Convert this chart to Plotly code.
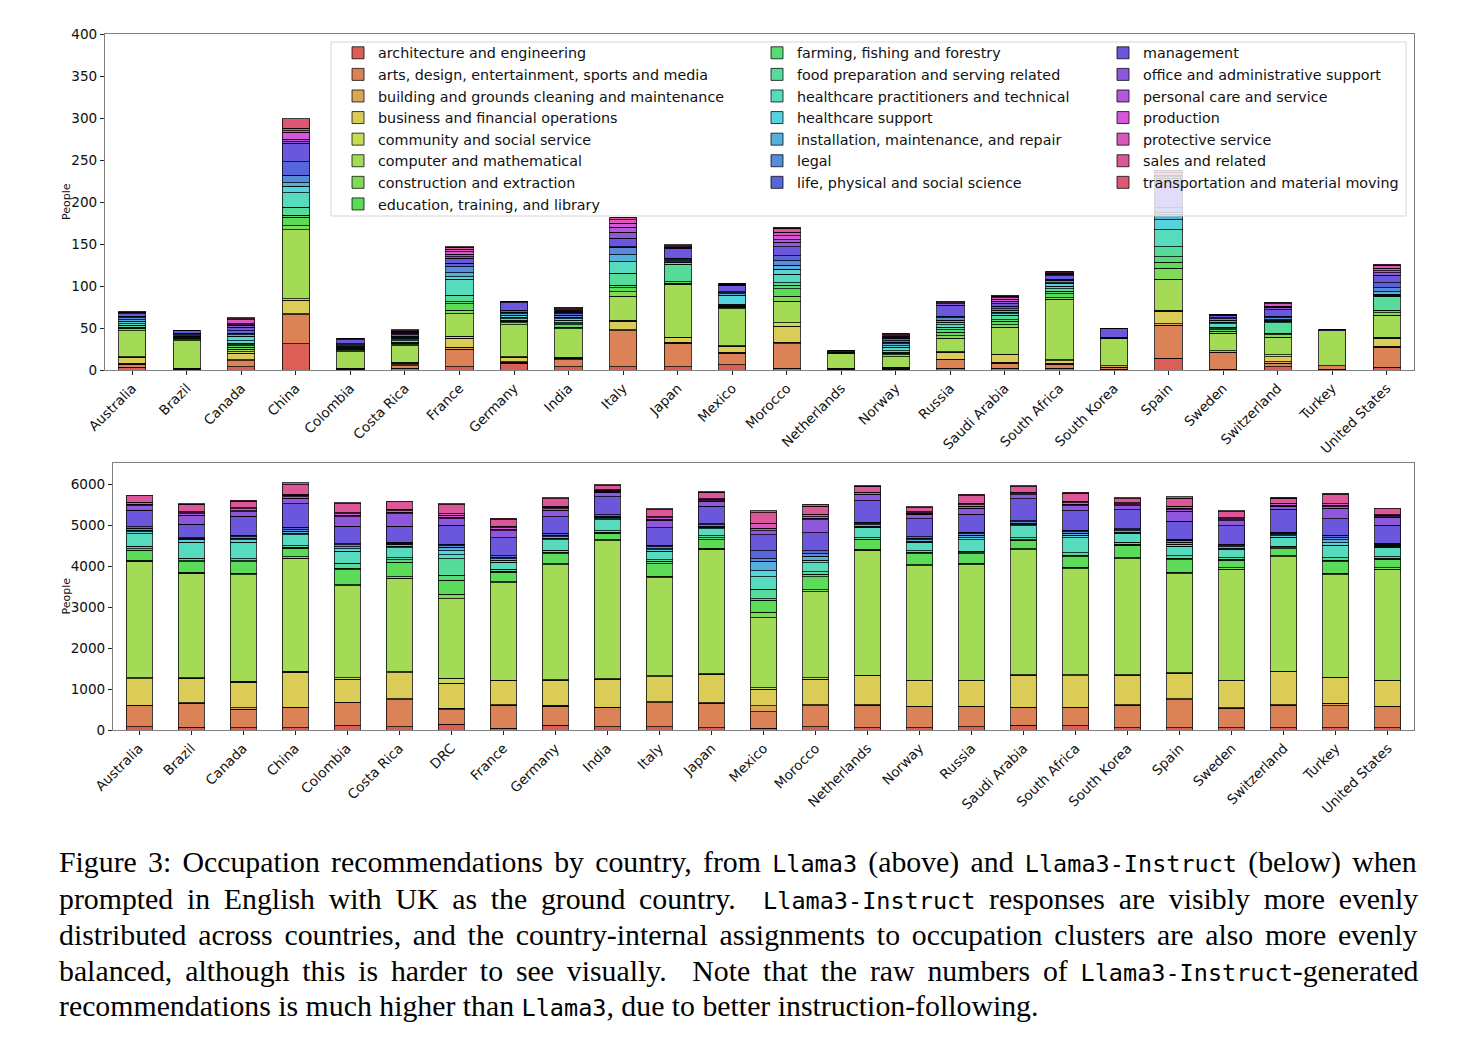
import colorsys
import plotly.graph_objects as go

occupations = [
    "architecture and engineering", "arts, design, entertainment, sports and media",
    "building and grounds cleaning and maintenance", "business and financial operations",
    "community and social service", "computer and mathematical", "construction and extraction",
    "education, training, and library", "farming, fishing and forestry",
    "food preparation and serving related", "healthcare practitioners and technical",
    "healthcare support", "installation, maintenance, and repair", "legal",
    "life, physical and social science", "management", "office and administrative support",
    "personal care and service", "production", "protective service", "sales and related",
    "transportation and material moving",
]

countries_top = ["Australia", "Brazil", "Canada", "China", "Colombia", "Costa Rica", "France",
                 "Germany", "India", "Italy", "Japan", "Mexico", "Morocco", "Netherlands",
                 "Norway", "Russia", "Saudi Arabia", "South Africa", "South Korea", "Spain",
                 "Sweden", "Switzerland", "Turkey", "United States"]

countries_bottom = ["Australia", "Brazil", "Canada", "China", "Colombia", "Costa Rica", "DRC",
                    "France", "Germany", "India", "Italy", "Japan", "Mexico", "Morocco",
                    "Netherlands", "Norway", "Russia", "Saudi Arabia", "South Africa",
                    "South Korea", "Spain", "Sweden", "Switzerland", "Turkey", "United States"]

# Llama3 (top) counts per country, in occupation order
llama3_australia = [3, 4, 1, 7, 1, 31, 2, 1, 1, 2, 2, 3, 2, 2, 2, 3, 1, 0, 0, 1, 0, 1]
llama3_brazil = [0, 1, 1, 0, 0, 33, 1, 2, 1, 1, 0, 1, 1, 1, 1, 3, 0, 0, 0, 0, 0, 0]
llama3_canada = [4, 7, 1, 8, 2, 3, 2, 2, 1, 2, 3, 5, 2, 2, 3, 4, 2, 1, 1, 5, 1, 1]
llama3_china = [31, 35, 1, 16, 2, 82, 5, 10, 2, 10, 17, 8, 4, 9, 16, 22, 2, 3, 8, 2, 3, 11]
llama3_colombia = [0, 1, 1, 0, 0, 20, 1, 2, 1, 1, 1, 1, 1, 0, 1, 5, 2, 0, 0, 0, 0, 0]
llama3_costa_rica = [2, 3, 1, 2, 1, 20, 1, 2, 1, 2, 1, 1, 1, 1, 1, 2, 2, 1, 1, 1, 0, 1]
llama3_france = [4, 21, 2, 11, 2, 27, 4, 8, 2, 8, 19, 3, 5, 7, 4, 6, 2, 3, 3, 3, 2, 1]
llama3_germany = [8, 1, 1, 5, 1, 38, 2, 2, 1, 2, 2, 2, 2, 2, 2, 9, 1, 1, 0, 0, 0, 0]
llama3_india = [4, 8, 2, 0, 1, 34, 2, 3, 1, 1, 3, 2, 2, 2, 2, 2, 1, 1, 1, 1, 1, 1]
llama3_italy = [4, 43, 1, 10, 1, 29, 5, 5, 3, 14, 14, 0, 8, 9, 1, 10, 7, 6, 5, 4, 2, 0]
llama3_japan = [4, 28, 1, 6, 0, 63, 1, 2, 0, 21, 2, 1, 1, 1, 2, 12, 1, 1, 0, 1, 0, 1]
llama3_mexico = [6, 14, 1, 7, 1, 44, 2, 1, 0, 1, 1, 11, 2, 1, 1, 8, 1, 0, 0, 1, 0, 0]
llama3_morocco = [2, 29, 2, 19, 4, 26, 6, 9, 4, 3, 10, 6, 5, 5, 6, 11, 5, 3, 5, 4, 5, 1]
llama3_netherlands = [0, 1, 1, 0, 0, 18, 0, 1, 0, 0, 0, 0, 0, 0, 1, 1, 0, 0, 0, 0, 0, 0]
llama3_norway = [1, 1, 1, 0, 0, 13, 2, 2, 1, 2, 4, 2, 2, 2, 2, 3, 1, 1, 1, 1, 1, 0]
llama3_russia = [2, 10, 1, 8, 1, 16, 3, 4, 3, 3, 3, 3, 2, 3, 2, 13, 2, 1, 0, 1, 0, 1]
llama3_saudi_arabia = [2, 6, 1, 9, 1, 32, 3, 4, 2, 5, 2, 2, 2, 2, 3, 3, 2, 1, 2, 2, 2, 1]
llama3_south_africa = [2, 5, 1, 3, 1, 72, 2, 5, 3, 3, 3, 3, 1, 3, 1, 4, 2, 1, 0, 1, 1, 0]
llama3_south_korea = [1, 2, 2, 0, 0, 33, 0, 1, 0, 0, 0, 0, 0, 0, 0, 10, 0, 0, 0, 0, 0, 0]
llama3_spain = [14, 39, 2, 15, 1, 37, 13, 7, 7, 12, 20, 12, 6, 3, 5, 30, 5, 2, 2, 3, 2, 1]
llama3_sweden = [1, 20, 2, 0, 0, 21, 2, 2, 1, 2, 4, 2, 2, 2, 1, 3, 1, 0, 0, 0, 0, 0]
llama3_switzerland = [4, 4, 2, 6, 2, 21, 3, 2, 0, 12, 2, 1, 1, 2, 2, 8, 3, 1, 0, 3, 1, 0]
llama3_turkey = [1, 4, 0, 0, 0, 42, 0, 0, 0, 0, 0, 0, 0, 0, 0, 1, 0, 0, 0, 0, 0, 0]
llama3_united_states = [3, 24, 1, 10, 1, 26, 3, 3, 0, 17, 1, 1, 3, 5, 6, 9, 3, 2, 3, 3, 1, 1]

# Llama3-Instruct (bottom) counts per country, in occupation order
instruct_australia = [80, 510, 16, 650, 16, 2850, 25, 245, 40, 60, 300, 50, 40, 40, 40, 400, 120, 25, 40, 20, 150, 20]
instruct_brazil = [70, 580, 10, 600, 10, 2560, 20, 260, 20, 60, 400, 50, 20, 20, 20, 330, 220, 30, 30, 20, 180, 20]
instruct_canada = [50, 460, 30, 630, 20, 2600, 40, 280, 20, 50, 400, 60, 40, 40, 30, 470, 110, 30, 40, 30, 160, 20]
instruct_china = [60, 480, 20, 850, 20, 2770, 30, 210, 20, 40, 270, 40, 40, 40, 60, 570, 140, 30, 40, 30, 230, 50]
instruct_colombia = [100, 560, 20, 560, 40, 2240, 30, 360, 40, 120, 300, 60, 50, 40, 30, 420, 240, 30, 40, 30, 220, 20]
instruct_costa_rica = [80, 660, 20, 640, 20, 2290, 30, 360, 60, 50, 240, 40, 40, 30, 30, 380, 310, 40, 40, 30, 180, 20]
instruct_drc = [140, 350, 40, 610, 120, 1950, 100, 350, 120, 400, 100, 100, 80, 40, 40, 460, 160, 40, 40, 40, 220, 30]
instruct_france = [40, 570, 10, 590, 10, 2370, 30, 230, 30, 40, 180, 40, 40, 40, 40, 440, 160, 40, 40, 30, 170, 30]
instruct_germany = [120, 460, 20, 610, 20, 2800, 30, 240, 40, 50, 250, 40, 40, 40, 40, 410, 160, 30, 40, 30, 180, 20]
instruct_india = [80, 470, 10, 680, 10, 3370, 20, 170, 20, 40, 260, 30, 30, 30, 40, 430, 120, 20, 20, 20, 100, 20]
instruct_italy = [80, 590, 20, 610, 20, 2400, 40, 300, 60, 40, 200, 40, 30, 40, 40, 430, 180, 30, 30, 30, 170, 20]
instruct_japan = [60, 590, 10, 700, 10, 3040, 30, 210, 50, 40, 180, 30, 30, 30, 30, 420, 120, 20, 30, 20, 150, 20]
instruct_mexico = [40, 400, 150, 410, 30, 1710, 130, 300, 30, 240, 300, 150, 230, 60, 200, 390, 100, 40, 20, 120, 250, 60]
instruct_morocco = [80, 510, 30, 620, 40, 2100, 40, 320, 60, 60, 230, 60, 90, 70, 70, 440, 310, 40, 40, 60, 200, 40]
instruct_netherlands = [60, 550, 10, 700, 20, 3050, 20, 230, 20, 40, 250, 30, 30, 30, 30, 530, 140, 20, 30, 20, 140, 20]
instruct_norway = [60, 510, 10, 620, 10, 2800, 30, 270, 30, 40, 200, 30, 30, 40, 40, 440, 110, 20, 20, 20, 100, 20]
instruct_russia = [80, 490, 10, 620, 20, 2810, 40, 230, 30, 40, 280, 50, 50, 40, 40, 440, 150, 40, 40, 40, 180, 40]
instruct_saudi_arabia = [120, 420, 10, 790, 10, 3050, 30, 200, 20, 40, 300, 30, 30, 30, 30, 540, 100, 20, 20, 20, 130, 20]
instruct_south_africa = [100, 440, 20, 760, 30, 2590, 40, 250, 40, 60, 360, 60, 50, 40, 40, 470, 130, 30, 40, 40, 190, 30]
instruct_south_korea = [60, 550, 10, 720, 10, 2830, 30, 300, 30, 40, 220, 30, 30, 30, 30, 460, 100, 20, 30, 20, 100, 20]
instruct_spain = [60, 680, 20, 620, 20, 2420, 30, 310, 40, 50, 240, 50, 50, 40, 30, 440, 240, 40, 40, 40, 200, 30]
instruct_sweden = [60, 470, 10, 660, 10, 2720, 30, 190, 20, 40, 200, 30, 30, 30, 40, 450, 120, 20, 30, 20, 150, 20]
instruct_switzerland = [60, 550, 10, 800, 20, 2790, 20, 180, 20, 40, 220, 30, 30, 30, 30, 560, 80, 20, 30, 20, 120, 20]
instruct_turkey = [60, 530, 60, 620, 20, 2500, 40, 280, 40, 60, 300, 60, 70, 60, 60, 400, 260, 30, 40, 40, 210, 40]
instruct_united_states = [60, 510, 10, 620, 10, 2720, 30, 210, 20, 40, 230, 30, 20, 20, 30, 440, 190, 20, 30, 20, 140, 20]

llama3_rows = [llama3_australia, llama3_brazil, llama3_canada, llama3_china, llama3_colombia,
               llama3_costa_rica, llama3_france, llama3_germany, llama3_india, llama3_italy,
               llama3_japan, llama3_mexico, llama3_morocco, llama3_netherlands, llama3_norway,
               llama3_russia, llama3_saudi_arabia, llama3_south_africa, llama3_south_korea,
               llama3_spain, llama3_sweden, llama3_switzerland, llama3_turkey, llama3_united_states]
instruct_rows = [instruct_australia, instruct_brazil, instruct_canada, instruct_china,
                 instruct_colombia, instruct_costa_rica, instruct_drc, instruct_france,
                 instruct_germany, instruct_india, instruct_italy, instruct_japan, instruct_mexico,
                 instruct_morocco, instruct_netherlands, instruct_norway, instruct_russia,
                 instruct_saudi_arabia, instruct_south_africa, instruct_south_korea, instruct_spain,
                 instruct_sweden, instruct_switzerland, instruct_turkey, instruct_united_states]

# seaborn-style "hls" palette
n = len(occupations)
colors = []
for i in range(n):
    h = (i / n + 0.01) % 1.0
    r, g, b = colorsys.hls_to_rgb(h, 0.6, 0.65)
    colors.append("rgb(%d,%d,%d)" % (round(r * 255), round(g * 255), round(b * 255)))

# page has an 8px body margin; map target-image pixels to paper coords
OFF = 8
W, H = 1466, 1046
def px(x):
    return (x - OFF) / W
def py(y):
    return 1 - (y - OFF) / H

fig = go.Figure()
edge = dict(color="rgba(0,0,0,0.75)", width=1)
for i, occ in enumerate(occupations):
    leg = "legend" if i < 8 else ("legend2" if i < 15 else "legend3")
    fig.add_trace(go.Bar(
        x=countries_top, y=[row[i] for row in llama3_rows], name=occ,
        marker=dict(color=colors[i], line=edge), xaxis="x", yaxis="y",
        legend=leg, showlegend=True))
for i, occ in enumerate(occupations):
    fig.add_trace(go.Bar(
        x=countries_bottom, y=[row[i] for row in instruct_rows], name=occ,
        marker=dict(color=colors[i], line=edge), xaxis="x2", yaxis="y2",
        showlegend=False))

tickfont = dict(family="DejaVu Sans", size=13.6, color="#111")
axis_common = dict(showline=True, mirror=True, linecolor="#808080", linewidth=1,
                   ticks="outside", ticklen=4, tickcolor="#222", tickfont=tickfont,
                   showgrid=False, zeroline=False, automargin=False)

legend_common = dict(bgcolor="rgba(0,0,0,0)", borderwidth=0, xanchor="left", yanchor="top",
                     font=dict(family="DejaVu Sans", size=14.3, color="#111"),
                     traceorder="normal", orientation="v")

MONO = '<span style="font-family:\'DejaVu Sans Mono\';font-size:23.5px">%s</span>'
caption_lines = [
    'Figure 3: Occupation recommendations by country, from ' + MONO % 'Llama3' + ' (above) and ' + MONO % 'Llama3-Instruct' + ' (below) when',
    'prompted in English with UK as the ground country.  ' + MONO % 'Llama3-Instruct' + ' responses are visibly more evenly',
    'distributed across countries, and the country-internal assignments to occupation clusters are also more evenly',
    'balanced, although this is harder to see visually.  Note that the raw numbers of ' + MONO % 'Llama3-Instruct' + '-generated',
    'recommendations is much higher than ' + MONO % 'Llama3' + ', due to better instruction-following.',
]
caption_spacing = [3.8, 6.3, 4.3, 5.4, 0]
caption_y = [862, 898, 934, 970, 1005]

annotations = []
for line, ws, yy in zip(caption_lines, caption_spacing, caption_y):
    txt = '<span style="word-spacing:%.1fpx">%s</span>' % (ws, line) if ws else line
    annotations.append(dict(text=txt, xref="paper", yref="paper", x=px(57), y=py(yy),
                            xanchor="left", yanchor="middle", showarrow=False,
                            font=dict(family="Liberation Serif", size=29.8, color="#000")))
for yc in [(34 + 370) / 2, (463 + 730) / 2]:
    annotations.append(dict(text="People", xref="paper", yref="paper", x=px(66), y=py(yc),
                            xanchor="center", yanchor="middle", textangle=-90, showarrow=False,
                            font=dict(family="DejaVu Sans", size=11, color="#111")))

fig.update_layout(
    width=W, height=H, margin=dict(l=0, r=0, t=0, b=0),
    paper_bgcolor="white", plot_bgcolor="white",
    barmode="stack", bargap=0.5, showlegend=True,
    xaxis=dict(axis_common, domain=[px(105), px(1414)], anchor="y", type="category",
               range=[-0.5, len(countries_top) - 0.5], tickangle=-45),
    yaxis=dict(axis_common, domain=[py(370), py(34)], anchor="x", range=[0, 400], dtick=50),
    xaxis2=dict(axis_common, domain=[px(113), px(1414)], anchor="y2", type="category",
                range=[-0.5, len(countries_bottom) - 0.5], tickangle=-45),
    yaxis2=dict(axis_common, domain=[py(730), py(463)], anchor="x2", range=[0, 6520], dtick=1000),
    legend=dict(legend_common, x=px(338), y=py(37)),
    legend2=dict(legend_common, x=px(757), y=py(37)),
    legend3=dict(legend_common, x=px(1103), y=py(37)),
    shapes=[dict(type="rect", xref="paper", yref="paper", x0=px(331), x1=px(1406),
                 y0=py(216), y1=py(42), fillcolor="rgba(255,255,255,0.8)",
                 line=dict(color="rgba(204,204,204,0.8)", width=1), layer="above")],
    annotations=annotations,
)

fig.write_html("out.html")
